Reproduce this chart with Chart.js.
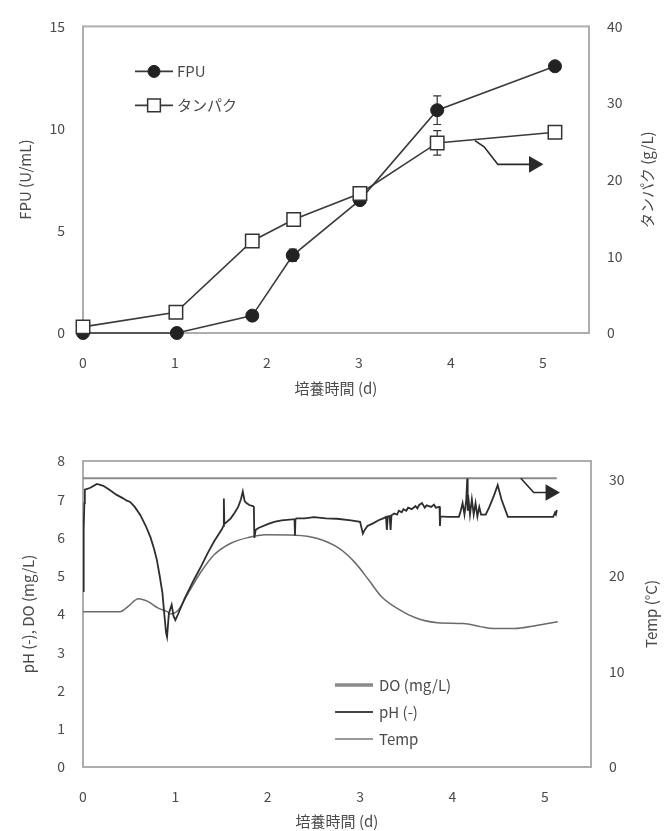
<!DOCTYPE html>
<html>
<head>
<meta charset="utf-8">
<script src="https://cdn.jsdelivr.net/npm/chart.js@4.4.1/dist/chart.umd.min.js"></script>
<style>
  body { margin: 0; background: #fff; }
  #wrap { position: relative; width: 669px; height: 831px; }
  .box { position: absolute; left: 0; width: 669px; }
</style>
</head>
<body>
<div id="wrap">
  <div class="box" style="top:0;height:405px"><canvas id="topChart"></canvas></div>
  <div class="box" style="top:420px;height:411px"><canvas id="bottomChart"></canvas></div>
</div>
<script>
// ---- top panel: enzyme activity and protein ----
const fpuTime = [0, 1.02, 1.84, 2.28, 3.01, 3.85, 5.13];
const fpuValue = [0, 0, 0.85, 3.8, 6.5, 10.9, 13.05];
const fpuError = [0, 0, 0.1, 0.3, 0.1, 0.7, 0];
const proteinTime = [0, 1.01, 1.84, 2.29, 3.01, 3.85, 5.13];
const proteinValue = [0.8, 2.7, 12.0, 14.8, 18.2, 24.8, 26.2];
const proteinError = [0, 0, 0, 0, 0, 1.6, 0];
const topArrow = [[4.26, 25.1], [4.36, 24.3], [4.51, 22.0], [4.9, 22.0]];

// ---- bottom panel: culture conditions ----
const doTrace = [
  [0, 4.6], [0.005, 5.4], [0.01, 6.2], [0.015, 6.9], [0.02, 7.25], [0.08, 7.3], [0.15, 7.4],
  [0.22, 7.35], [0.29, 7.24], [0.36, 7.12], [0.43, 7.03], [0.47, 6.97], [0.51, 6.93], [0.56, 6.8],
  [0.62, 6.59], [0.68, 6.3], [0.73, 6.01], [0.77, 5.7], [0.8, 5.41], [0.83, 5.0], [0.86, 4.55],
  [0.88, 4.0], [0.9, 3.5], [0.91, 3.4], [0.93, 4.02], [0.96, 4.24], [0.98, 3.95], [1.0, 3.84],
  [1.03, 4.0], [1.1, 4.4], [1.2, 4.89], [1.28, 5.25], [1.35, 5.59], [1.42, 5.9], [1.5, 6.2],
  [1.52, 6.3], [1.525, 7.02], [1.53, 6.35], [1.6, 6.5], [1.64, 6.64], [1.68, 6.8], [1.71, 7.0],
  [1.73, 7.2], [1.75, 6.95], [1.77, 6.9], [1.8, 6.85], [1.84, 6.82], [1.85, 6.8], [1.855, 5.99],
  [1.87, 6.2], [1.9, 6.25], [2.0, 6.35], [2.07, 6.41], [2.15, 6.45], [2.29, 6.48], [2.295, 6.05],
  [2.3, 6.47], [2.31, 6.5], [2.4, 6.5], [2.5, 6.53], [2.63, 6.5], [2.75, 6.49], [2.9, 6.45],
  [3.0, 6.41], [3.03, 6.1], [3.05, 6.2], [3.08, 6.3], [3.14, 6.37], [3.2, 6.45], [3.25, 6.5],
  [3.28, 6.54], [3.29, 6.2], [3.3, 6.55], [3.32, 6.56], [3.33, 6.2], [3.34, 6.58], [3.37, 6.63],
  [3.4, 6.6], [3.42, 6.7], [3.45, 6.66], [3.47, 6.74], [3.5, 6.7], [3.52, 6.78], [3.56, 6.74],
  [3.6, 6.82], [3.62, 6.76], [3.64, 6.85], [3.67, 6.9], [3.7, 6.78], [3.72, 6.84], [3.77, 6.8],
  [3.8, 6.86], [3.82, 6.78], [3.86, 6.8], [3.865, 6.3], [3.87, 6.55], [3.95, 6.54], [4.07, 6.54],
  [4.09, 6.7], [4.11, 6.9], [4.13, 6.6], [4.15, 7.0], [4.16, 7.54], [4.165, 6.7], [4.17, 7.1],
  [4.19, 6.6], [4.21, 7.0], [4.23, 6.6], [4.25, 6.9], [4.27, 6.55], [4.29, 6.8], [4.31, 6.6],
  [4.36, 6.6], [4.4, 6.8], [4.45, 7.1], [4.49, 7.37], [4.53, 7.0], [4.6, 6.54], [4.8, 6.54],
  [5.0, 6.54], [5.09, 6.54], [5.11, 6.65], [5.12, 6.6], [5.13, 6.72]
];
const phTrace = [
  [0, 4.06], [0.4, 4.06], [0.49, 4.2], [0.6, 4.4], [0.7, 4.33], [0.81, 4.16], [0.91, 4.06],
  [0.95, 4.0], [1.02, 4.07], [1.14, 4.55], [1.28, 5.11], [1.42, 5.55], [1.6, 5.85], [1.79, 6.0],
  [1.98, 6.07], [2.3, 6.06], [2.53, 5.98], [2.77, 5.72], [2.95, 5.33], [3.09, 4.9], [3.23, 4.46],
  [3.42, 4.12], [3.6, 3.9], [3.84, 3.77], [4.12, 3.75], [4.3, 3.67], [4.44, 3.62], [4.67, 3.62],
  [4.91, 3.7], [5.14, 3.8]
];
const tempTrace = [[0, 30.2], [5.13, 30.2]];
const bottomArrow = [[4.74, 30.2], [4.88, 28.7], [5.06, 28.7]];

const FONT = "'Noto Sans CJK JP', 'Noto Sans', sans-serif";
const INK = '#4a4a4a';

const pairs = (t, v) => t.map((x, i) => ({ x, y: v[i] }));
const pts = (arr) => arr.map(([x, y]) => ({ x, y }));
const keep = (step) => (scale) => {
  scale.ticks = scale.ticks.filter(t => Math.abs(t.value / step - Math.round(t.value / step)) < 1e-6);
};

const framePlugin = {
  id: 'frame',
  beforeDatasetsDraw(chart) {
    const { ctx, chartArea: a } = chart;
    ctx.save();
    ctx.strokeStyle = '#adadad';
    ctx.lineWidth = 2;
    ctx.strokeRect(a.left, a.top, a.right - a.left, a.bottom - a.top);
    ctx.restore();
  }
};

const errorBarPlugin = {
  id: 'errorBars',
  beforeDatasetsDraw(chart) {
    const ctx = chart.ctx;
    chart.data.datasets.forEach((ds, i) => {
      if (!ds.errors) return;
      const ys = chart.scales[ds.yAxisID];
      chart.getDatasetMeta(i).data.forEach((pt, j) => {
        const e = ds.errors[j];
        if (!e) return;
        const v = ds.data[j].y;
        const y1 = ys.getPixelForValue(v + e), y2 = ys.getPixelForValue(v - e);
        ctx.save();
        ctx.strokeStyle = '#333';
        ctx.lineWidth = 1.2;
        ctx.beginPath();
        ctx.moveTo(pt.x, y1); ctx.lineTo(pt.x, y2);
        ctx.moveTo(pt.x - 4, y1); ctx.lineTo(pt.x + 4, y1);
        ctx.moveTo(pt.x - 4, y2); ctx.lineTo(pt.x + 4, y2);
        ctx.stroke();
        ctx.restore();
      });
    });
  }
};

const inlineLegendPlugin = {
  id: 'inlineLegend',
  afterDraw(chart, args, opts) {
    const { ctx, chartArea: a } = chart;
    let y = a.top + opts.top;
    const x0 = a.left + opts.left;
    chart.data.datasets.forEach(ds => {
      if (!ds.label) return;
      ctx.save();
      ctx.strokeStyle = ds.legendColor || ds.borderColor;
      ctx.lineWidth = ds.legendWidth || ds.borderWidth;
      ctx.beginPath();
      ctx.moveTo(x0, y); ctx.lineTo(x0 + opts.lineLen, y);
      ctx.stroke();
      if (opts.markers && ds.pointStyle) {
        ctx.fillStyle = ds.pointBackgroundColor;
        ctx.strokeStyle = ds.pointBorderColor;
        ctx.lineWidth = ds.pointBorderWidth;
        Chart.helpers.drawPoint(ctx, {
          pointStyle: ds.pointStyle, rotation: 0,
          radius: ds.legendRadius, borderWidth: ds.pointBorderWidth
        }, x0 + opts.lineLen / 2, y);
      }
      ctx.fillStyle = INK;
      ctx.font = opts.fontSize + 'px ' + FONT;
      ctx.textBaseline = 'middle';
      ctx.fillText(ds.label, x0 + opts.lineLen + opts.textGap, y);
      ctx.restore();
      y += opts.gap;
    });
  }
};

const axisTitlePlugin = {
  id: 'axisTitles',
  afterDraw(chart, args, opts) {
    const { ctx, chartArea: a } = chart;
    const midY = (a.top + a.bottom) / 2;
    ctx.save();
    ctx.fillStyle = INK;
    ctx.font = opts.fontSize + 'px ' + FONT;
    ctx.textAlign = 'center';
    ctx.textBaseline = 'middle';
    ctx.fillText(opts.bottom.text, (a.left + a.right) / 2, opts.bottom.y);
    [opts.left, opts.right].forEach(t => {
      ctx.save();
      ctx.translate(t.x, midY);
      ctx.rotate(-Math.PI / 2);
      ctx.fillText(t.text, 0, 0);
      ctx.restore();
    });
    ctx.restore();
  }
};

const tickFont = { family: FONT, size: 14 };

function xAxis(height) {
  return {
    type: 'linear', min: 0, max: 5.5,
    border: { display: false },
    grid: { display: false, drawTicks: false },
    ticks: { stepSize: 1, color: INK, font: tickFont, padding: 21 },
    afterBuildTicks: keep(1),
    afterFit: (s) => { s.height = height; }
  };
}
function yAxis(pos, min, max, step, width, pad) {
  return {
    type: 'linear', position: pos, min, max,
    border: { display: false },
    grid: { display: false, drawTicks: false },
    ticks: { stepSize: step, color: INK, font: tickFont, padding: pad },
    afterBuildTicks: keep(step),
    afterFit: (s) => { s.width = width; }
  };
}

new Chart(document.getElementById('topChart'), {
  type: 'line',
  data: {
    datasets: [
      {
        label: 'FPU', data: pairs(fpuTime, fpuValue), errors: fpuError, yAxisID: 'y',
        borderColor: '#3a3a3a', borderWidth: 1.6,
        pointStyle: 'circle', pointRadius: 6.5, legendRadius: 6,
        pointBackgroundColor: '#222', pointBorderColor: '#222', pointBorderWidth: 1,
        clip: false, order: 2
      },
      {
        label: 'タンパク', data: pairs(proteinTime, proteinValue), errors: proteinError, yAxisID: 'y2',
        borderColor: '#3a3a3a', borderWidth: 1.6,
        pointStyle: 'rect', pointRadius: 9.5, legendRadius: 9,
        pointBackgroundColor: '#fff', pointBorderColor: '#333', pointBorderWidth: 1.5,
        clip: false, order: 1
      },
      {
        data: pts(topArrow), yAxisID: 'y2',
        borderColor: '#2a2a2a', borderWidth: 1.6, tension: 0,
        pointStyle: 'triangle', pointRotation: 90,
        pointRadius: [0, 0, 0, 8], pointBackgroundColor: '#2a2a2a', pointBorderColor: '#2a2a2a',
        clip: false, order: 0
      }
    ]
  },
  options: {
    responsive: true, maintainAspectRatio: false, animation: false,
    layout: { padding: { top: 18, left: 0, right: 0, bottom: 0 }, autoPadding: false },
    plugins: {
      legend: { display: false }, tooltip: { enabled: false },
      inlineLegend: { left: 52, top: 45, gap: 34, lineLen: 38, textGap: 4, markers: true, fontSize: 15 },
      axisTitles: {
        fontSize: 15,
        bottom: { text: '培養時間 (d)', y: 388 },
        left: { text: 'FPU (U/mL)', x: 25 },
        right: { text: 'タンパク (g/L)', x: 647 }
      }
    },
    scales: {
      x: xAxis(72),
      y: yAxis('left', 0, 15, 5, 83, 18),
      y2: yAxis('right', 0, 40, 10, 80, 18)
    }
  },
  plugins: [framePlugin, errorBarPlugin, inlineLegendPlugin, axisTitlePlugin]
});

new Chart(document.getElementById('bottomChart'), {
  type: 'line',
  data: {
    datasets: [
      {
        label: 'DO (mg/L)', data: pts(doTrace), yAxisID: 'y',
        borderColor: '#2e2e2e', borderWidth: 1.8, legendColor: '#8a8a8a', legendWidth: 3.5,
        pointRadius: 0, tension: 0, order: 1
      },
      {
        label: 'pH (-)', data: pts(phTrace), yAxisID: 'y',
        borderColor: '#6a6a6a', borderWidth: 1.5, legendColor: '#444', legendWidth: 1.8,
        pointRadius: 0, cubicInterpolationMode: 'monotone', order: 2
      },
      {
        label: 'Temp', data: pts(tempTrace), yAxisID: 'y2',
        borderColor: '#8a8a8a', borderWidth: 2, legendColor: '#777', legendWidth: 1.5,
        pointRadius: 0, order: 3
      },
      {
        data: pts(bottomArrow), yAxisID: 'y2',
        borderColor: '#2a2a2a', borderWidth: 1.6,
        pointStyle: 'triangle', pointRotation: 90,
        pointRadius: [0, 0, 8], pointBackgroundColor: '#2a2a2a', pointBorderColor: '#2a2a2a',
        clip: false, order: 0
      }
    ]
  },
  options: {
    responsive: true, maintainAspectRatio: false, animation: false,
    layout: { padding: { top: 41, left: 0, right: 0, bottom: 0 }, autoPadding: false },
    plugins: {
      legend: { display: false }, tooltip: { enabled: false },
      inlineLegend: { left: 252, top: 224, gap: 27, lineLen: 38, textGap: 6, markers: false, fontSize: 15 },
      axisTitles: {
        fontSize: 15,
        bottom: { text: '培養時間 (d)', y: 401 },
        left: { text: 'pH (-), DO (mg/L)', x: 28 },
        right: { text: 'Temp (°C)', x: 651 }
      }
    },
    scales: {
      x: xAxis(64),
      y: yAxis('left', 0, 8, 1, 83, 18),
      y2: yAxis('right', 0, 32, 10, 78, 18)
    }
  },
  plugins: [framePlugin, inlineLegendPlugin, axisTitlePlugin]
});
</script>
</body>
</html>
